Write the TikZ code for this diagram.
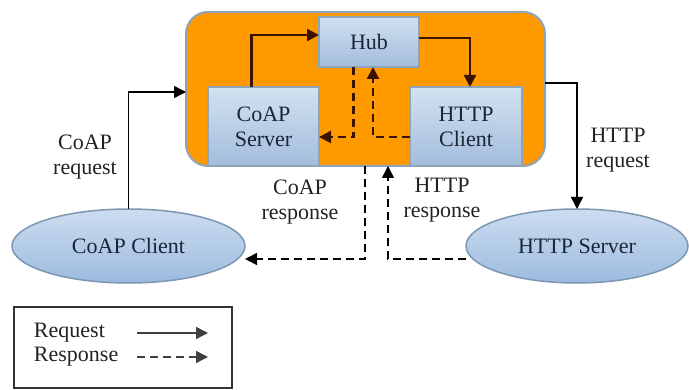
\documentclass[tikz,border=0pt]{standalone}
\usepackage{fontspec}
\setmainfont{Liberation Serif}
\usetikzlibrary{arrows.meta,shapes.geometric}

\definecolor{hubfill}{HTML}{FF9900}
\definecolor{frameblue}{HTML}{8CA3BA}
\definecolor{boxtop}{HTML}{D3E1F0}
\definecolor{boxbot}{HTML}{A2BDDC}
\definecolor{boxedge}{HTML}{8EA4B9}
\definecolor{elltop}{HTML}{CCDDF0}
\definecolor{ellbot}{HTML}{9DBBDF}
\definecolor{elledge}{HTML}{7D97B2}
\definecolor{inkdark}{HTML}{1A2536}
\definecolor{labelgray}{HTML}{222222}
\definecolor{innerarrow}{HTML}{3A1400}

\begin{document}
\begin{tikzpicture}[x=1pt,y=-1pt,
  every node/.style={font=\rmfamily\fontsize{22}{25}\selectfont, inner sep=0pt, outer sep=0pt},
  gateway/.style={draw=frameblue, line width=2pt, fill=hubfill, rounded corners=22pt},
  module/.style={draw=boxedge, line width=1.5pt, top color=boxtop, bottom color=boxbot,
                 text=inkdark, align=center},
  endpoint/.style={ellipse, draw=elledge, line width=1.5pt, top color=elltop,
                   bottom color=ellbot, text=inkdark},
  tag/.style={text=labelgray, align=center},
  req/.style={draw=black, line width=1.5pt, -{Triangle[length=12pt,width=12pt]}},
  resp/.style={req, dash pattern=on 8pt off 5pt},
  reqin/.style={req, draw=innerarrow, line width=2.4pt},
  respin/.style={resp, draw=innerarrow, line width=2.4pt},
  legendbox/.style={draw=black!80, line width=1.5pt}]

  \useasboundingbox (0,0) rectangle (689,390);

  % gateway frame and its inner modules
  \node[gateway, minimum width=359pt, minimum height=154pt] (gw) at (365.5,89) {};
  \node[module, minimum width=100pt, minimum height=50pt] (hub) at (369,42) {Hub};
  \node[module, minimum width=111pt, minimum height=79pt] (cs) at (263.5,126.5) {CoAP\\Server};
  \node[module, minimum width=112pt, minimum height=79pt] (hc) at (466,126.5) {HTTP\\Client};

  % end points
  \node[endpoint, minimum width=233pt, minimum height=74pt] (cc) at (128.5,246) {CoAP Client};
  \node[endpoint, minimum width=222pt, minimum height=74pt] (hs) at (577,246) {HTTP Server};

  % requests inside the gateway
  \draw[reqin] ([xshift=-12pt]cs.north) |- ([yshift=7pt]hub.west);
  \draw[reqin] ([yshift=4pt]hub.east) -| ([xshift=4pt]hc.north);
  % responses inside the gateway
  \draw[respin] ([xshift=-15.5pt]hub.south) |- ([yshift=-10.5pt]cs.east);
  \draw[respin] ([yshift=-10.5pt]hc.west) -| ([xshift=4pt]hub.south);

  % requests outside
  \draw[req] (cc.north) |- ([yshift=-3pt]gw.west);
  \draw[req] ([yshift=6pt]gw.east) -| (hs.north);
  % responses outside
  \draw[resp] ([xshift=-0.5pt]gw.south) |- ([yshift=-13pt]cc.east);
  \draw[resp] ([yshift=-13pt]hs.west) -| ([xshift=22.5pt]gw.south);

  % connector labels
  \node[tag] (lcreq) at (85,157.5) {CoAP\\request};
  \node[tag] (lhreq) at (618,150) {HTTP\\request};
  \node[tag] (lcresp) at (300,202) {CoAP\\response};
  \node[tag] (lhresp) at (442,200) {HTTP\\response};

  % legend
  \node[legendbox, minimum width=218pt, minimum height=81pt] (legend) at (123,347.5) {};
  \node[tag, anchor=west] (lreq) at (34,333) {Request};
  \node[tag, anchor=west] (lresp) at (34,357) {Response};
  \coordinate (rqa) at (137,333);
  \coordinate (rqb) at (208,333);
  \coordinate (rsa) at (137,357);
  \coordinate (rsb) at (208,357);
  \draw[req, draw=black!75] (rqa) -- (rqb);
  \draw[resp, draw=black!75] (rsa) -- (rsb);
\end{tikzpicture}
\end{document}
